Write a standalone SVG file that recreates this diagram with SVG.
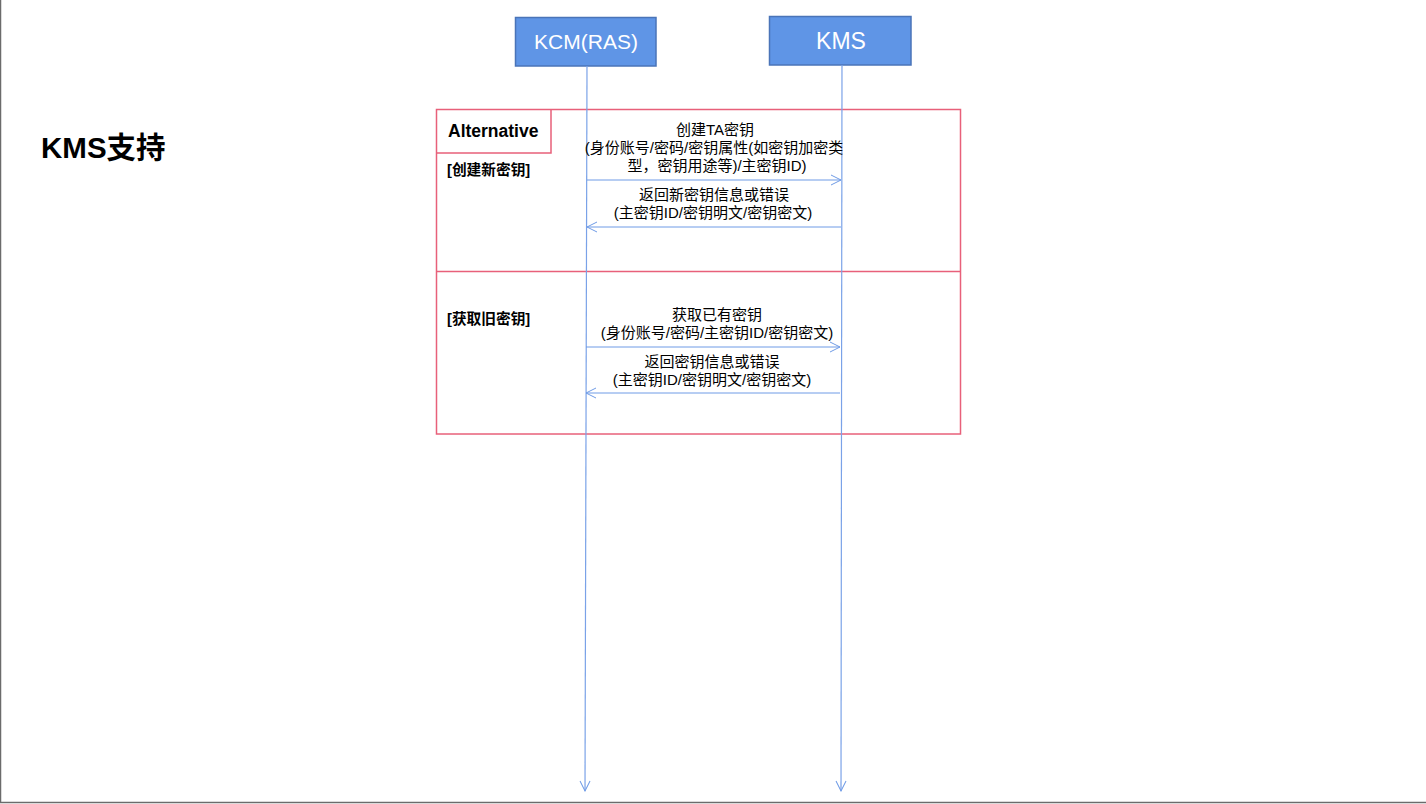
<svg xmlns="http://www.w3.org/2000/svg" width="1426" height="804" viewBox="0 0 1426 804">
<defs>
<style>
.t{font-family:"Liberation Sans","Noto Sans CJK SC",sans-serif;fill:#000}
.m{font-size:15px;text-anchor:middle}
.b{font-weight:bold}
.actor{fill:#5f95e6;stroke:#4a74b8;stroke-width:1.5}
.an{font-family:"Liberation Sans","Noto Sans CJK SC",sans-serif;fill:#fff;text-anchor:middle}
.life{stroke:#7aa2e8;stroke-width:1.2;fill:none}
.msg{stroke:#6f9be6;stroke-width:1;fill:none}
.frame{fill:none;stroke:#e8607a;stroke-width:1.5}
</style>
<marker id="ah" viewBox="0 0 12 12" refX="11" refY="6" markerWidth="12" markerHeight="12" markerUnits="userSpaceOnUse" orient="auto">
<path d="M1,1 L11,6 L1,11" fill="none" stroke="#6f9be6" stroke-width="1"/>
</marker>
</defs>
<rect width="1426" height="804" fill="#fff"/>
<line x1="0.5" y1="0" x2="0.5" y2="803" stroke="#6b6b6b" stroke-width="1.5"/>
<line x1="0" y1="802.5" x2="1426" y2="802.5" stroke="#6b6b6b" stroke-width="1.5"/>
<text class="t b" x="41" y="158" font-size="29.5">KMS支持</text>
<g id="frame">
<rect class="frame" x="436.5" y="109.5" width="524" height="324.5"/>
<line class="frame" x1="436.5" y1="271.5" x2="960.5" y2="271.5"/>
<path class="frame" d="M436.5,153 L551,153 L551,109.5"/>
<text class="t b" x="448" y="137" font-size="17.5">Alternative</text>
<text class="t b" x="447" y="175" font-size="14.7">[创建新密钥]</text>
<text class="t b" x="447" y="324" font-size="14.7">[获取旧密钥]</text>
</g>
<g id="kcm">
<rect class="actor" x="515.5" y="17.5" width="140.5" height="48.5"/>
<text class="an" x="586" y="49" font-size="21">KCM(RAS)</text>
</g>
<g id="kms">
<rect class="actor" x="769.5" y="16.5" width="141.5" height="48.5"/>
<text class="an" x="841" y="49" font-size="23">KMS</text>
</g>
<g id="connectors">
<line class="life" x1="587" y1="66" x2="585" y2="791" marker-end="url(#ah)"/>
<line class="life" x1="842" y1="65" x2="841" y2="791" marker-end="url(#ah)"/>
<line class="msg" x1="587" y1="180" x2="841" y2="180" marker-end="url(#ah)"/>
<line class="msg" x1="841" y1="227" x2="587" y2="227" marker-end="url(#ah)"/>
<line class="msg" x1="586" y1="347" x2="840" y2="347" marker-end="url(#ah)"/>
<line class="msg" x1="840" y1="393" x2="586" y2="393" marker-end="url(#ah)"/>
</g>
<g id="labels">
<text class="t m" x="715" y="135">创建TA密钥</text>
<text class="t m" x="714" y="153">(身份账号/密码/密钥属性(如密钥加密类</text>
<text class="t m" x="717" y="171">型，密钥用途等)/主密钥ID)</text>
<text class="t m" x="714" y="200">返回新密钥信息或错误</text>
<text class="t m" x="713" y="218">(主密钥ID/密钥明文/密钥密文)</text>
<text class="t m" x="717" y="320">获取已有密钥</text>
<text class="t m" x="717" y="338">(身份账号/密码/主密钥ID/密钥密文)</text>
<text class="t m" x="712" y="367">返回密钥信息或错误</text>
<text class="t m" x="712" y="385">(主密钥ID/密钥明文/密钥密文)</text>
</g>
</svg>
